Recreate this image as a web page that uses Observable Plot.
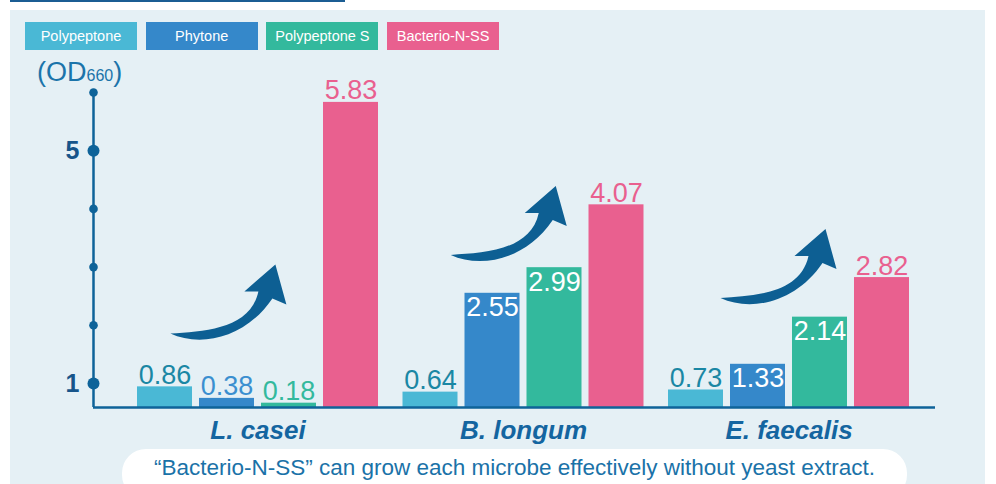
<!DOCTYPE html>
<html>
<head>
<meta charset="utf-8">
<script src="https://cdn.jsdelivr.net/npm/d3@7"></script>
<script src="https://cdn.jsdelivr.net/npm/@observablehq/plot@0.6"></script>
<style>
  body { margin: 0; background: #ffffff; font-family: "Liberation Sans", Arial, sans-serif; }
  #page { position: relative; width: 996px; height: 484px; overflow: hidden; }
  #topline { position: absolute; left: 10px; top: 0; width: 335px; height: 2px; background: #1b5d93; }
  #panel { position: absolute; left: 10px; top: 10px; width: 975px; height: 474px; background: #e5f0f5; }
  #legend { position: absolute; left: 25px; top: 22px; width: 480px; height: 28px; }
  .sw { position: absolute; top: 0; width: 112px; height: 28px; color: #fff; font-size: 14.5px; line-height: 28px; text-align: center; }
  #ylabel { position: absolute; left: 37px; top: 57px; color: #1b74aa; font-size: 27px; white-space: nowrap; }
  #ylabel .sub { font-size: 16px; }
  #chart { position: absolute; left: 0; top: 55px; }
  #caption { position: absolute; left: 122px; top: 449px; width: 785px; height: 50px; background: #ffffff; border-radius: 24px; color: #1a72a8; font-size: 22.5px; text-align: center; line-height: 37px; white-space: nowrap; }
</style>
</head>
<body>
<div id="page">
  <div id="topline"></div>
  <div id="panel"></div>
  <div id="legend"></div>
  <div id="ylabel">(OD<span class="sub">660</span>)</div>
  <div id="chart"></div>
  <div id="caption"></div>
</div>
<script>
// ---- data ----
const groups = ["L. casei", "B. longum", "E. faecalis"];
const series = ["Polypeptone", "Phytone", "Polypeptone S", "Bacterio-N-SS"];
const polypeptone = [0.86, 0.64, 0.73];
const phytone = [0.38, 2.55, 1.33];
const polypeptoneS = [0.18, 2.99, 2.14];
const bacterioNSS = [5.83, 4.07, 2.82];
const yMajorTicks = [1, 5];
const yMinorTicks = [2, 3, 4, 6];
const captionText = "\u201CBacterio-N-SS\u201D can grow each microbe effectively without yeast extract.";
// arrow annotations (tail anchor, in data units: group, offset within group, value)
const arrowGroups = ["L. casei", "B. longum", "E. faecalis"];
const arrowOffsets = [-0.33, -0.274, -0.258];
const arrowValues = [1.86, 3.21, 2.47];

// ---- styles ----
const barColors = ["#4ab8d5", "#3588ca", "#33b99d", "#e9608f"];
const labelColors = ["#1a87a4", "#3a8fd0", "#33b99d", "#e9608f"];
const axisColor = "#0e6399";
const arrowColor = "#0d5f93";

// ---- build table ----
const valuesBySeries = [polypeptone, phytone, polypeptoneS, bacterioNSS];
const table = [];
groups.forEach((g, gi) => {
  series.forEach((s, si) => {
    table.push({group: g, gi, series: s, si, value: valuesBySeries[si][gi]});
  });
});
const arrows = arrowGroups.map((g, i) => ({gi: groups.indexOf(g), offset: arrowOffsets[i], value: arrowValues[i]}));

// layout in group units
const step = 62 / 265.5, half = 27.5 / 265.5;
const center = d => d.gi + (d.si - 1.5) * step;
const xDomain = [-0.6196, 2.5518];

// legend
const legend = document.getElementById("legend");
series.forEach((s, i) => {
  const el = document.createElement("div");
  el.className = "sw";
  el.style.left = (i * 120.7) + "px";
  el.style.background = barColors[i];
  el.textContent = s;
  legend.appendChild(el);
});
document.getElementById("caption").textContent = captionText;

// custom arrow symbol (tail at origin)
const arrowSymbol = {
  draw(ctx) {
    ctx.moveTo(0, 0);
    ctx.bezierCurveTo(30, 14, 75, 5, 102, -35);
    ctx.lineTo(116, -29);
    ctx.lineTo(105, -69);
    ctx.lineTo(74, -42);
    ctx.lineTo(88, -42);
    ctx.bezierCurveTo(80, -5, 35, -2, 0, 0);
    ctx.closePath();
  }
};

const isInside = d => d.si !== 3 && d.value > 1;

const chart = Plot.plot({
  width: 996,
  height: 392,
  margin: 0,
  style: {background: "transparent", overflow: "visible", fontFamily: "Liberation Sans, Arial, sans-serif"},
  x: {type: "linear", domain: xDomain, range: [93, 935], axis: null},
  y: {type: "linear", domain: [0, 1, 6], range: [352, 328, 37], axis: null},
  color: {type: "identity"},
  marks: [
    Plot.rectY(table, {
      x1: d => center(d) - half,
      x2: d => center(d) + half,
      y1: 0,
      y2: "value",
      fill: d => barColors[d.si]
    }),
    Plot.ruleY([0], {x1: xDomain[0], x2: xDomain[1], stroke: axisColor, strokeWidth: 2.5}),
    Plot.ruleX([xDomain[0]], {y1: 0, y2: 6, stroke: axisColor, strokeWidth: 2.5}),
    Plot.dot(yMinorTicks, {x: xDomain[0], y: d => d, r: 4.3, fill: axisColor, stroke: "none"}),
    Plot.dot(yMajorTicks, {x: xDomain[0], y: d => d, r: 6, fill: axisColor, stroke: "none"}),
    Plot.text(yMajorTicks, {x: xDomain[0], y: d => d, text: d => String(d), dx: -21, fontSize: 25, fontWeight: "bold", fill: "#17558a"}),
    Plot.text(table.filter(d => !isInside(d)), {
      x: center, y: "value", text: d => d.value.toFixed(2),
      lineAnchor: "bottom", dy: -3, fontSize: 27, fill: d => labelColors[d.si]
    }),
    Plot.text(table.filter(isInside), {
      x: center, y: "value", text: d => d.value.toFixed(2),
      lineAnchor: "top", dy: 4, fontSize: 27, fill: "#ffffff"
    }),
    Plot.text(groups, {
      x: (d, i) => i, y: 0, text: d => d, dy: 23,
      fontSize: 26, fontWeight: "bold", fontStyle: "italic", fill: "#1465a0"
    }),
    Plot.dot(arrows, {
      x: d => d.gi + d.offset, y: "value", symbol: arrowSymbol, r: 10,
      fill: arrowColor, stroke: "none"
    })
  ]
});
document.getElementById("chart").appendChild(chart);
</script>
</body>
</html>
